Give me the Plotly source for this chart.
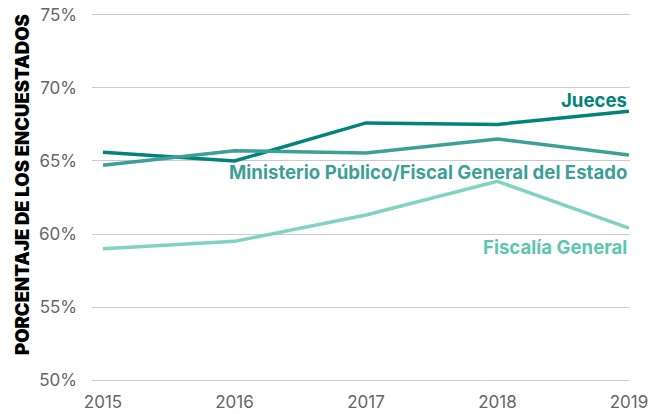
import plotly.graph_objects as go

years = [2015, 2016, 2017, 2018, 2019]
jueces = [65.6, 65.0, 67.6, 67.5, 68.4]
ministerio = [64.7, 65.7, 65.55, 66.5, 65.4]
fiscalia = [59.0, 59.5, 61.3, 63.6, 60.4]
y_ticks = [50, 55, 60, 65, 70, 75]
y_tick_text = ["50%", "55%", "60%", "65%", "70%", "75%"]

series = [
    ("Jueces", jueces, "#00847a", "#00847a", 69.2),
    ("Ministerio Público/Fiscal General del Estado", ministerio, "#3e9f97", "#3e9f97", 64.25),
    ("Fiscalía General", fiscalia, "#80d3c0", "#5cc6ae", 59.1),
]

fig = go.Figure()
for name, vals, col, tcol, ly in series:
    fig.add_trace(go.Scatter(x=years, y=vals, mode="lines", name=name,
                             line=dict(color=col, width=3.5), showlegend=False))
    fig.add_annotation(x=2019, y=ly, xref="x", yref="y", text=name, showarrow=False,
                       xanchor="right", yanchor="middle",
                       font=dict(family="Inter", size=18.6, color=tcol, weight=700))

fig.add_annotation(text="PORCENTAJE DE LOS ENCUESTADOS", xref="paper", yref="paper",
                   x=-0.13, y=0.534, xanchor="center", yanchor="middle", textangle=-90,
                   showarrow=False, font=dict(family="Inter", size=18.5, color="#000", weight=900))

fig.update_layout(
    width=662, height=414,
    margin=dict(l=92, r=32, t=13, b=32),
    paper_bgcolor="white", plot_bgcolor="white",
    font=dict(family="Inter", size=16, color="#666"),
    xaxis=dict(range=[2014.916, 2019.008], tickvals=years, ticktext=[str(y) for y in years],
               showgrid=False, zeroline=False, showline=False, ticks="", ticklabelstandoff=8,
               automargin=False, tickfont=dict(size=17, color="#666")),
    yaxis=dict(range=[49.88, 75.12], tickvals=y_ticks, ticktext=y_tick_text, showgrid=True,
               gridcolor="#cccccc", gridwidth=1, zeroline=False, showline=False, ticks="",
               automargin=False, ticklabelstandoff=14, tickfont=dict(size=17, color="#666")),
)

fig.write_html("out.html", config={"displayModeBar": False},
               post_script="document.body.style.margin='0';")
